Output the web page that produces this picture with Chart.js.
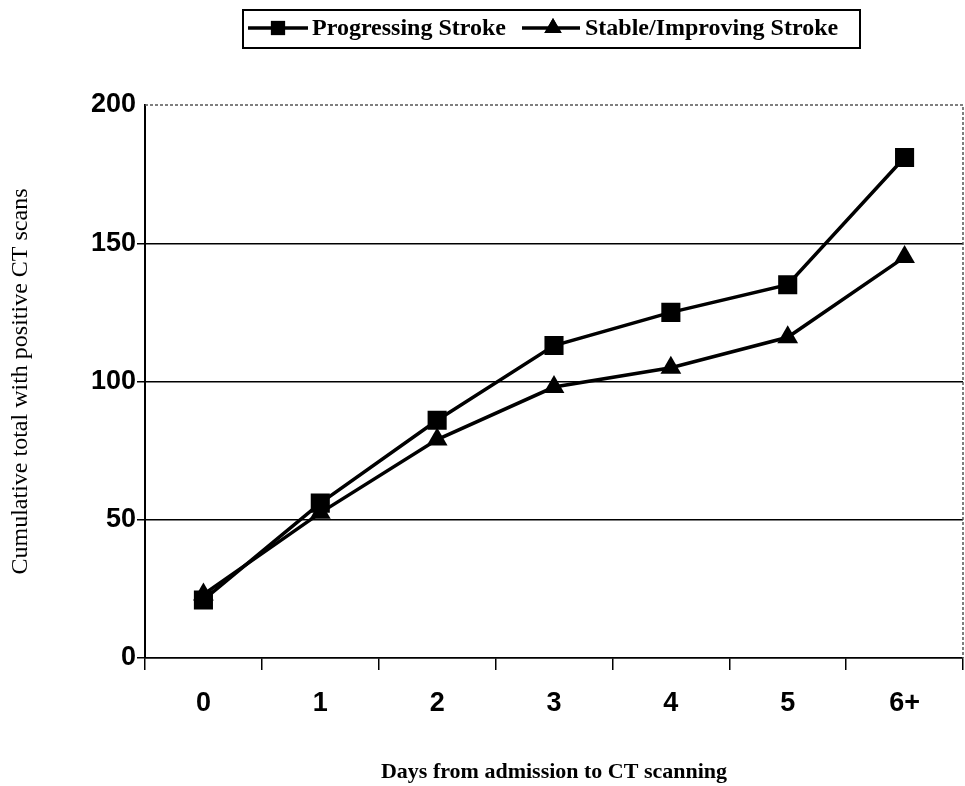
<!DOCTYPE html>
<html>
<head>
<meta charset="utf-8">
<script src="https://cdn.jsdelivr.net/npm/chart.js@4/dist/chart.umd.min.js"></script>
<style>
  html, body { margin: 0; padding: 0; background: #fff; }
  #wrap { width: 965px; height: 786px; }
</style>
</head>
<body>
<div id="wrap"><canvas id="ctChart" width="965" height="786"></canvas></div>
<script>
var days = ['0', '1', '2', '3', '4', '5', '6+'];
var progressing = [21, 56, 86, 113, 125, 135, 181];
var stable = [23, 52.5, 79, 98, 105, 116, 145];
var yTicks = [0, 50, 100, 150, 200];

var serif = '"Liberation Serif", "Times New Roman", serif';
var sans = '"Liberation Sans", Arial, sans-serif';

// draws the boxed legend and the dotted frame on top/right of the plot
var framePlugin = {
  id: 'frame',
  afterDraw: function (chart) {
    var c = chart.ctx, a = chart.chartArea;
    c.save();
    c.strokeStyle = '#555';
    c.lineWidth = 1.5;
    c.setLineDash([3, 2]);
    c.beginPath();
    c.moveTo(a.left, a.top);
    c.lineTo(a.right, a.top);
    c.lineTo(a.right, a.bottom);
    c.stroke();
    c.setLineDash([]);

    // legend
    c.strokeStyle = '#000';
    c.lineWidth = 2;
    c.strokeRect(243, 10, 617, 38);
    c.fillStyle = '#000';
    c.font = 'bold 24px ' + serif;
    c.textBaseline = 'middle';
    var items = [
      { x1: 248, x2: 308, mx: 278, tx: 312, ds: 0 },
      { x1: 522, x2: 580, mx: 553, tx: 585, ds: 1 }
    ];
    items.forEach(function (it) {
      var ds = chart.data.datasets[it.ds];
      c.lineWidth = 3.5;
      c.beginPath();
      c.moveTo(it.x1, 28);
      c.lineTo(it.x2, 28);
      c.stroke();
      Chart.helpers.drawPoint(c, { pointStyle: ds.pointStyle, radius: 10, borderWidth: 0 }, it.mx, 28);
      c.fill();
      c.fillText(ds.label, it.tx, 29);
    });
    c.restore();
  }
};

new Chart(document.getElementById('ctChart').getContext('2d'), {
  type: 'line',
  data: {
    labels: days,
    datasets: [{
      label: 'Progressing Stroke',
      data: progressing,
      borderColor: '#000',
      backgroundColor: '#000',
      borderWidth: 3.5,
      pointStyle: 'rect',
      pointRadius: 13.5,
      pointBorderWidth: 0,
      tension: 0
    }, {
      label: 'Stable/Improving Stroke',
      data: stable,
      borderColor: '#000',
      backgroundColor: '#000',
      borderWidth: 3.5,
      pointStyle: 'triangle',
      pointRadius: 12,
      pointBorderWidth: 0,
      tension: 0
    }]
  },
  options: {
    responsive: false,
    animation: false,
    layout: { autoPadding: false, padding: { top: 105, right: 2, left: 0, bottom: 0 } },
    plugins: {
      legend: { display: false },
      tooltip: { enabled: false }
    },
    scales: {
      x: {
        offset: true,
        grid: {
          offset: true,
          drawOnChartArea: false,
          drawTicks: true,
          tickLength: 12,
          color: '#000',
          lineWidth: 1.5
        },
        border: { color: '#000', width: 1.5 },
        ticks: {
          color: '#000',
          padding: 17,
          font: { family: sans, size: 27, weight: 'bold' }
        },
        title: {
          display: true,
          text: 'Days from admission to CT scanning',
          color: '#000',
          padding: { top: 22, bottom: 0 },
          font: { family: serif, size: 22, weight: 'bold' }
        },
        afterFit: function (s) {
          s.height = 128;
          s.paddingLeft = 0;
          s.paddingRight = 0;
        }
      },
      y: {
        min: 0,
        max: 200,
        afterBuildTicks: function (s) {
          s.ticks = yTicks.map(function (v) { return { value: v }; });
        },
        grid: {
          color: function (c) {
            return c.tick && c.tick.value === 200 ? 'rgba(0,0,0,0)' : '#000';
          },
          lineWidth: 1.5,
          tickLength: 8
        },
        border: { color: '#000', width: 2 },
        ticks: {
          color: '#000',
          padding: 1,
          font: { family: sans, size: 27, weight: 'bold' }
        },
        title: {
          display: true,
          text: 'Cumulative total with positive CT scans',
          color: '#000',
          padding: { top: 6, bottom: 0 },
          font: { family: serif, size: 24 }
        },
        afterFit: function (s) { s.width = 145; }
      }
    }
  },
  plugins: [framePlugin]
});
</script>
</body>
</html>
